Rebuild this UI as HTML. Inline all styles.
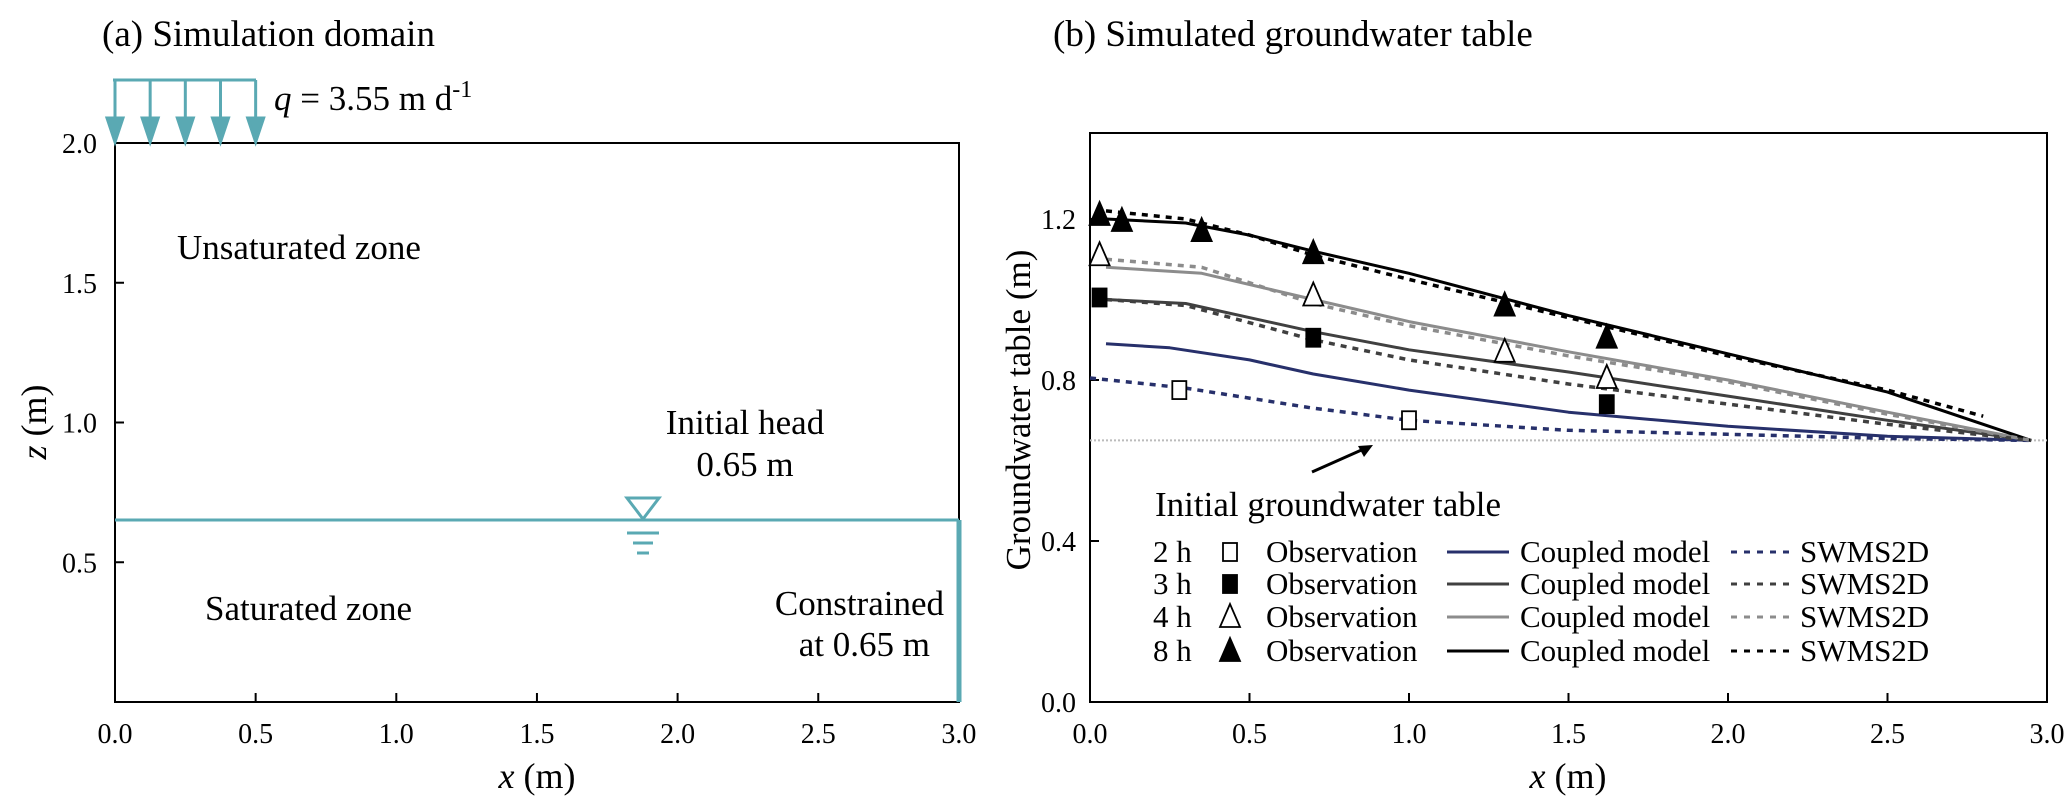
<!DOCTYPE html>
<html><head><meta charset="utf-8"><style>
html,body{margin:0;padding:0;background:#fff;}
svg{display:block;font-family:"Liberation Serif",serif;}
</style></head><body>
<svg id="fig" width="2067" height="808" viewBox="0 0 2067 808" xmlns="http://www.w3.org/2000/svg">
<g>
 <text x="102" y="46" font-size="37">(a) Simulation domain</text>
 <rect x="115" y="143" width="844" height="559" fill="none" stroke="#000" stroke-width="2"/>
 <g id="aTicks"></g>
 <g stroke="#5aa9b3" stroke-width="3" fill="#5aa9b3">
  <line x1="113" y1="80" x2="256" y2="80"/>
  <g id="arrows"></g>
 </g>
 <text x="274" y="110" font-size="35"><tspan font-style="italic">q</tspan> = 3.55 m d<tspan dy="-13" font-size="24">-1</tspan></text>
 <text x="177" y="259" font-size="35">Unsaturated zone</text>
 <text x="745" y="434" font-size="35" text-anchor="middle">Initial head</text>
 <text x="745" y="476" font-size="35" text-anchor="middle">0.65 m</text>
 <line x1="115" y1="520" x2="959" y2="520" stroke="#5aa9b3" stroke-width="3"/>
 <line x1="959" y1="520" x2="959" y2="702" stroke="#5aa9b3" stroke-width="5"/>
 <g stroke="#5aa9b3" stroke-width="3" fill="none">
  <polygon points="627,498 659,498 643,519"/>
  <line x1="627" y1="533" x2="659" y2="533"/>
  <line x1="633" y1="543" x2="653" y2="543"/>
  <line x1="637" y1="553" x2="649" y2="553"/>
 </g>
 <text x="205" y="620" font-size="35">Saturated zone</text>
 <text x="944" y="615" font-size="35" text-anchor="end">Constrained</text>
 <text x="930" y="656" font-size="35" text-anchor="end">at 0.65 m</text>
 <text x="537" y="788" font-size="36" text-anchor="middle"><tspan font-style="italic">x</tspan> (m)</text>
 <text transform="translate(46,422) rotate(-90)" font-size="36" text-anchor="middle"><tspan font-style="italic">z</tspan> (m)</text>
</g>
<g>
 <text x="1053" y="46" font-size="37">(b) Simulated groundwater table</text>
 <rect x="1090" y="133" width="957" height="569" fill="none" stroke="#000" stroke-width="2"/>
 <g id="bTicks"></g>
 <g id="bSeries"></g>
 <text x="1155" y="516" font-size="35">Initial groundwater table</text>
 <line x1="1312" y1="472" x2="1366" y2="448" stroke="#000" stroke-width="3"/>
 <polygon points="1373,445 1358,446 1364,457" fill="#000"/>
 <g id="legend" font-size="31"></g>
 <text x="1568" y="788" font-size="36" text-anchor="middle"><tspan font-style="italic">x</tspan> (m)</text>
 <text transform="translate(1030,410) rotate(-90)" font-size="35" text-anchor="middle">Groundwater table (m)</text>
</g>
</svg>
<script>
const NS="http://www.w3.org/2000/svg";
// panel a ticks
const aXTicks=[0,0.5,1.0,1.5,2.0,2.5,3.0];
const aYTicks=[0.5,1.0,1.5,2.0];
const arrowX=[0,0.125,0.25,0.375,0.5];
// panel b data
const bXTicks=[0,0.5,1.0,1.5,2.0,2.5,3.0];
const bYTicks=[0,0.4,0.8,1.2];
const initialTable=0.65;
const obs2hX=[0.28,1.0], obs2hY=[0.775,0.70];
const obs3hX=[0.03,0.70,1.62], obs3hY=[1.005,0.905,0.74];
const obs4hX=[0.03,0.70,1.30,1.62], obs4hY=[1.11,1.01,0.87,0.805];
const obs8hX=[0.03,0.10,0.35,0.70,1.30,1.62], obs8hY=[1.21,1.195,1.17,1.115,0.985,0.905];
const cpl2hX=[0.05,0.25,0.5,0.7,1.0,1.5,2.0,2.5,2.95], cpl2hY=[0.89,0.88,0.85,0.815,0.775,0.72,0.685,0.66,0.65];
const cpl3hX=[0.05,0.3,0.7,1.0,1.5,2.0,2.5,2.95], cpl3hY=[1.0,0.99,0.92,0.875,0.82,0.76,0.70,0.65];
const cpl4hX=[0.05,0.35,0.7,1.0,1.5,2.0,2.5,2.95], cpl4hY=[1.08,1.065,1.0,0.945,0.87,0.80,0.72,0.65];
const cpl8hX=[0.05,0.3,0.5,0.7,1.0,1.5,2.0,2.5,2.95], cpl8hY=[1.2,1.19,1.16,1.12,1.065,0.96,0.865,0.77,0.65];
const sw2hX=[0.0,0.3,0.7,1.0,1.5,2.0,2.5,2.95], sw2hY=[0.805,0.78,0.73,0.70,0.675,0.665,0.655,0.65];
const sw3hX=[0.05,0.3,0.7,1.0,1.5,2.0,2.5,2.95], sw3hY=[1.0,0.985,0.90,0.85,0.79,0.74,0.69,0.65];
const sw4hX=[0.05,0.35,0.7,1.0,1.5,2.0,2.5,2.95], sw4hY=[1.10,1.08,0.99,0.935,0.86,0.795,0.715,0.65];
const sw8hX=[0.05,0.3,0.5,0.7,1.0,1.5,2.0,2.5,2.8], sw8hY=[1.22,1.20,1.16,1.11,1.05,0.955,0.86,0.775,0.71];
const legendTimes=["2 h","3 h","4 h","8 h"];

const ax=v=>115+v*281.3, ay=v=>702-v*279.5;
const bx=v=>1090+v*319, by=v=>702-v*402.5;
function mk(tag,attrs,parent,txt){const e=document.createElementNS(NS,tag);for(const k in attrs)e.setAttribute(k,attrs[k]);if(txt!==undefined)e.textContent=txt;parent.appendChild(e);return e;}
const aT=document.getElementById('aTicks');
aXTicks.forEach(v=>{const l=mk('line',{x1:ax(v),x2:ax(v),y1:702,y2:693,stroke:'#000','stroke-width':2},aT);


const t=mk('text',{x:ax(v),y:743,'font-size':28,'text-anchor':'middle'},aT,v.toFixed(1));

});
aYTicks.forEach(v=>{const l=mk('line',{x1:115,x2:124,y1:ay(v),y2:ay(v),stroke:'#000','stroke-width':2},aT);


const t=mk('text',{x:97,y:ay(v)+10,'font-size':28,'text-anchor':'end'},aT,v.toFixed(1));

});
const ar=document.getElementById('arrows');
arrowX.forEach(v=>{const x=ax(v);mk('line',{x1:x,x2:x,y1:80,y2:128},ar);
const p=mk('polygon',{points:`${x-8},118 ${x+8},118 ${x},142`},ar);

});

const bT=document.getElementById('bTicks');
bXTicks.forEach(v=>{const l=mk('line',{x1:bx(v),x2:bx(v),y1:702,y2:693,stroke:'#000','stroke-width':2},bT);


const t=mk('text',{x:bx(v),y:743,'font-size':28,'text-anchor':'middle'},bT,v.toFixed(1));

});
bYTicks.forEach(v=>{const l=mk('line',{x1:1090,x2:1099,y1:by(v),y2:by(v),stroke:'#000','stroke-width':2},bT);


const t=mk('text',{x:1076,y:by(v)+10,'font-size':28,'text-anchor':'end'},bT,v.toFixed(1));

});

const S=document.getElementById('bSeries');
const il=mk('line',{x1:1090,x2:2047,y1:by(initialTable),y2:by(initialTable),stroke:'#bbb','stroke-width':2,'stroke-dasharray':'2 2'},S);


function path(xs,ys){return xs.map((x,i)=>(i?'L':'M')+bx(x).toFixed(1)+','+by(ys[i]).toFixed(1)).join(' ');}
const colors=['#27306b','#404040','#8c8c8c','#000'];
const cpl=[[cpl2hX,cpl2hY],[cpl3hX,cpl3hY],[cpl4hX,cpl4hY],[cpl8hX,cpl8hY]];
const sw=[[sw2hX,sw2hY],[sw3hX,sw3hY],[sw4hX,sw4hY],[sw8hX,sw8hY]];
const obs=[[obs2hX,obs2hY],[obs3hX,obs3hY],[obs4hX,obs4hY],[obs8hX,obs8hY]];
cpl.forEach((s,i)=>{const p=mk('path',{d:path(s[0],s[1]),fill:'none',stroke:colors[i],'stroke-width':3,'stroke-linejoin':'round'},S);

});
sw.forEach((s,i)=>{const p=mk('path',{d:path(s[0],s[1]),fill:'none',stroke:colors[i],'stroke-width':3.5,'stroke-dasharray':'6 6'},S);

});
function marker(kind,x,y,parent){let e;
 if(kind<2){e=mk('rect',{x:x-7,y:y-9,width:14,height:18,fill:kind==1?'#000':'#fff',stroke:'#000','stroke-width':1.8},parent);}
 else{e=mk('polygon',{points:`${x},${y-13} ${x-10},${y+10} ${x+10},${y+10}`,fill:kind==3?'#000':'#fff',stroke:'#000','stroke-width':1.8},parent);}
 return e;}
obs.forEach((s,i)=>s[0].forEach((x,j)=>{const m=marker(i,bx(x),by(s[1][j]),S);

}));

const L=document.getElementById('legend');
const rowsY=[552,584,617,651];
legendTimes.forEach((t,i)=>{const y=rowsY[i];
 const g=mk('g',{},L);
 
 
 mk('text',{x:1153,y:y+10},g,t);
 marker(i,1230,y,g);
 mk('text',{x:1266,y:y+10},g,'Observation');
 mk('line',{x1:1447,x2:1509,y1:y,y2:y,stroke:colors[i],'stroke-width':3},g);
 mk('text',{x:1520,y:y+10},g,'Coupled model');
 mk('line',{x1:1731,x2:1791,y1:y,y2:y,stroke:colors[i],'stroke-width':3,'stroke-dasharray':'6 7'},g);
 mk('text',{x:1800,y:y+10},g,'SWMS2D');
});
</script>
</body></html>
